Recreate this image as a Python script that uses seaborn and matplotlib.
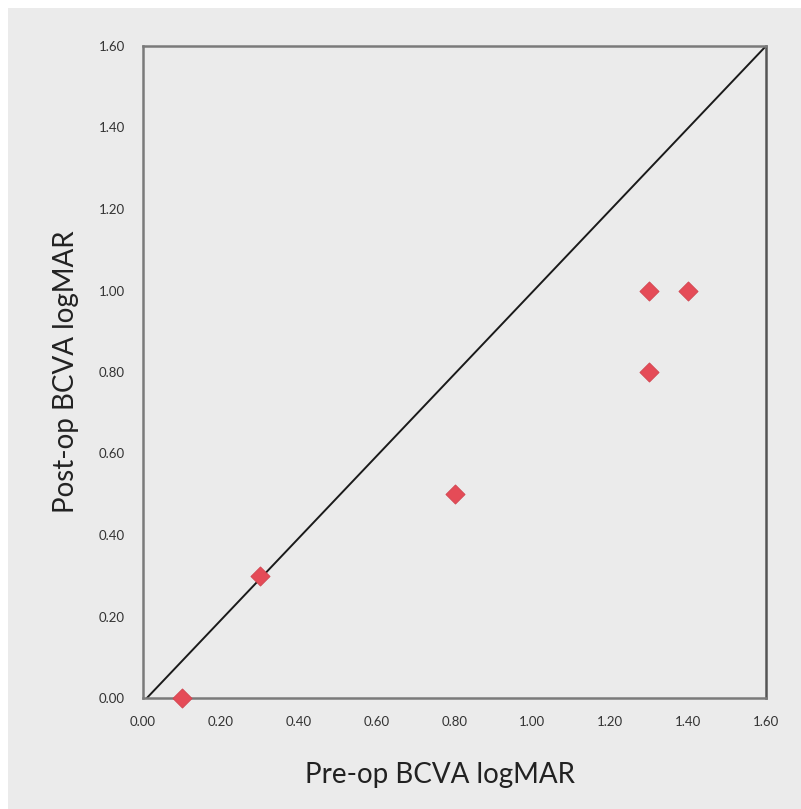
import numpy as np
import pandas as pd
import matplotlib
matplotlib.use('Agg')
import matplotlib.pyplot as plt
import seaborn as sns
from matplotlib.patches import Rectangle

# data
pre_op = [0.10, 0.30, 0.80, 1.30, 1.40, 1.30]
post_op = [0.00, 0.30, 0.50, 1.00, 1.00, 0.80]
ticks = [0.0, 0.2, 0.4, 0.6, 0.8, 1.0, 1.2, 1.4, 1.6]
diag_x = [0.01, 1.6]
diag_y = [0.0, 1.6]

df = pd.DataFrame({'pre': pre_op, 'post': post_op})

sns.set_style('white')
plt.rcParams['font.family'] = ['Lato', 'DejaVu Sans']

bg = '#ebebeb'
fig = plt.figure(figsize=(8.01, 8.09), dpi=100, facecolor='white')
fig.patches.append(Rectangle((8 / 801, 0), 1, 1 - 8 / 809, transform=fig.transFigure,
                             facecolor=bg, edgecolor='none', zorder=-5))
ax = fig.add_axes([143 / 801, 1 - 698 / 809, (766 - 143) / 801, (698 - 46) / 809])
ax.set_zorder(5)
ax.set_facecolor(bg)

ax.plot(diag_x, diag_y, color='#1a1a1a', lw=1.4, zorder=2)
sns.scatterplot(data=df, x='pre', y='post', marker='D', s=95, color='#e54b57',
                edgecolor='#d0444f', linewidth=0.6, ax=ax, zorder=3, clip_on=False)

ax.set_xlim(0, 1.6)
ax.set_ylim(0, 1.6)
ax.set_xticks(ticks)
ax.set_yticks(ticks)
ax.set_xticklabels([f'{t:.2f}' for t in ticks])
ax.set_yticklabels([f'{t:.2f}' for t in ticks])
ax.tick_params(axis='both', direction='out', length=5, width=1, color='#888888',
               labelsize=9.5, labelcolor='#333333', pad=8)
for side in ['left', 'bottom', 'top', 'right']:
    ax.spines[side].set_visible(True)
    ax.spines[side].set_color('#7a7a7a')
    ax.spines[side].set_linewidth(1.8)
ax.spines['right'].set_color('#555555')

ax.set_xlabel('Pre-op BCVA logMAR', fontsize=20, color='#222222')
ax.set_ylabel('Post-op BCVA logMAR', fontsize=20, color='#222222', labelpad=14)
ax.xaxis.set_label_coords(0.477, -0.098)

fig.savefig('out.png', dpi=100, facecolor='white')
